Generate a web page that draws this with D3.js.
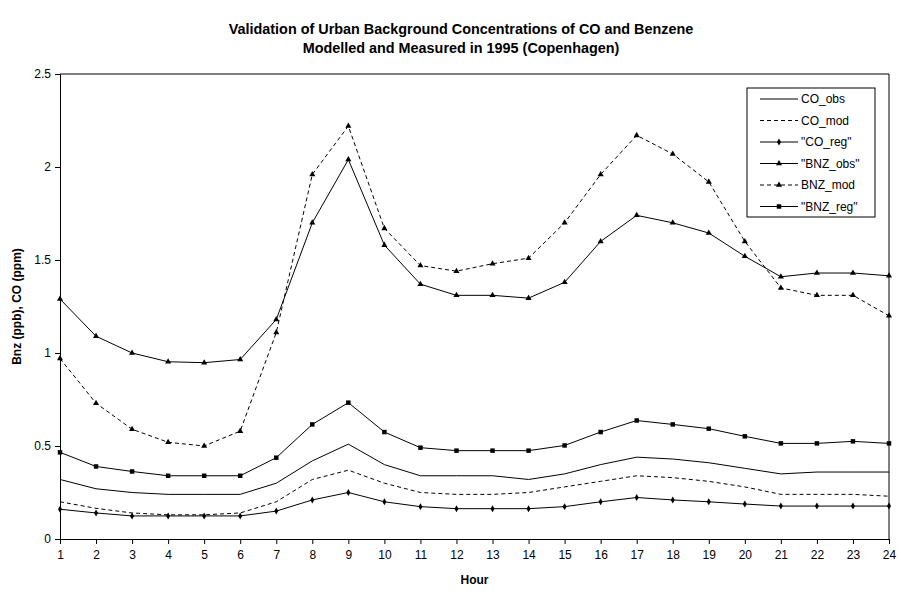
<!DOCTYPE html>
<html>
<head>
<meta charset="utf-8">
<script src="https://cdn.jsdelivr.net/npm/d3@7"></script>
<style>
  body { margin: 0; background: #fff; }
  svg { font-family: Arial, "Liberation Sans", sans-serif; }
</style>
</head>
<body>
<div id="chart"></div>
<script>
// hours 1..24
const hours = d3.range(1, 25);

const coObs  = [0.32,0.27,0.25,0.24,0.24,0.24,0.30,0.42,0.51,0.40,0.34,0.34,0.34,0.32,0.35,0.40,0.44,0.43,0.41,0.38,0.35,0.36,0.36,0.36];
const coMod  = [0.20,0.165,0.14,0.13,0.13,0.14,0.20,0.32,0.37,0.30,0.25,0.24,0.24,0.25,0.28,0.31,0.34,0.33,0.31,0.28,0.24,0.24,0.24,0.23];
const coReg  = [0.16,0.14,0.124,0.124,0.124,0.124,0.15,0.21,0.25,0.20,0.174,0.163,0.163,0.163,0.174,0.20,0.223,0.21,0.20,0.188,0.177,0.177,0.177,0.177];
const bnzObs = [1.29,1.09,1.00,0.953,0.948,0.965,1.18,1.70,2.04,1.58,1.37,1.31,1.31,1.295,1.38,1.60,1.74,1.70,1.645,1.52,1.41,1.43,1.43,1.415];
const bnzMod = [0.97,0.73,0.59,0.52,0.50,0.58,1.11,1.96,2.22,1.67,1.47,1.44,1.48,1.51,1.70,1.96,2.17,2.07,1.92,1.60,1.35,1.31,1.31,1.20];
const bnzReg = [0.466,0.39,0.363,0.34,0.34,0.34,0.437,0.616,0.733,0.575,0.491,0.475,0.475,0.475,0.503,0.575,0.637,0.616,0.593,0.552,0.514,0.514,0.525,0.514];

const seriesNames = ['CO_obs', 'CO_mod', '"CO_reg"', '"BNZ_obs"', 'BNZ_mod', '"BNZ_reg"'];
const yTicks = [0, 0.5, 1, 1.5, 2, 2.5];

const series = [
    {name: seriesNames[0], values: coObs,  dash: null,  marker: null},
    {name: seriesNames[1], values: coMod,  dash: '4,3', marker: null},
    {name: seriesNames[2], values: coReg,  dash: null,  marker: 'diamond'},
    {name: seriesNames[3], values: bnzObs, dash: null,  marker: 'triangle'},
    {name: seriesNames[4], values: bnzMod, dash: '4,3', marker: 'triangle'},
    {name: seriesNames[5], values: bnzReg, dash: null,  marker: 'square'}
];

const width = 901, height = 597;
const margin = {top: 74, right: 12, bottom: 58, left: 60};

const svg = d3.select('#chart').append('svg')
    .attr('width', width)
    .attr('height', height);

let x = d3.scaleLinear().domain([1, 24]).range([margin.left, width - margin.right]);
let y = d3.scaleLinear().domain([0, 2.5]).range([height - margin.bottom, margin.top]);

// plot frame (top + right edges)
svg.append('path')
    .attr('d', `M${x(1)},${y(2.5)}H${x(24)}V${y(0)}`)
    .attr('fill', 'none')
    .attr('stroke', '#000')
    .attr('stroke-width', 1);

// axes
let xAxis = svg.append('g')
    .attr('transform', `translate(0,${y(0)})`)
    .call(d3.axisBottom(x).tickValues(hours).tickFormat(d3.format('d')).tickSize(5).tickPadding(6));
let yAxis = svg.append('g')
    .attr('transform', `translate(${x(1)},0)`)
    .call(d3.axisLeft(y).tickValues(yTicks).tickFormat(d => d).tickSize(5).tickPadding(4));

[xAxis, yAxis].forEach(a => {
    a.select('.domain').attr('stroke', '#000');
    a.selectAll('.tick line').attr('stroke', '#000');
    a.selectAll('text').attr('font-size', 12).attr('fill', '#000')
        .attr('font-family', 'Arial, "Liberation Sans", sans-serif');
});

function markerPath(type) {
    if (type === 'triangle') return d3.symbol().type(d3.symbolTriangle).size(16)();
    if (type === 'square') return d3.symbol().type(d3.symbolSquare).size(20)();
    if (type === 'diamond') return d3.symbol().type(d3.symbolDiamond).size(14)();
    return null;
}

let line = d3.line()
    .x((d, i) => x(hours[i]))
    .y(d => y(d));

series.forEach(s => {
    svg.append('path')
        .datum(s.values)
        .attr('fill', 'none')
        .attr('stroke', '#000')
        .attr('stroke-width', 1)
        .attr('stroke-dasharray', s.dash)
        .attr('d', line);

    if (s.marker) {
        svg.selectAll(null)
            .data(s.values)
            .enter()
            .append('path')
            .attr('d', markerPath(s.marker))
            .attr('fill', '#000')
            .attr('transform', (d, i) => `translate(${x(hours[i])},${y(d)})`);
    }
});

// titles
svg.append('text')
    .attr('x', 461).attr('y', 34)
    .attr('text-anchor', 'middle')
    .attr('font-size', 14.4).attr('font-weight', 'bold')
    .text('Validation of Urban Background Concentrations of CO and Benzene');
svg.append('text')
    .attr('x', 461).attr('y', 53)
    .attr('text-anchor', 'middle')
    .attr('font-size', 14.4).attr('font-weight', 'bold')
    .text('Modelled and Measured in 1995 (Copenhagen)');

svg.append('text')
    .attr('x', (x(1) + x(24)) / 2).attr('y', 584)
    .attr('text-anchor', 'middle')
    .attr('font-size', 12).attr('font-weight', 'bold')
    .text('Hour');

svg.append('text')
    .attr('transform', `translate(21,${(y(0) + y(2.5)) / 2}) rotate(-90)`)
    .attr('text-anchor', 'middle')
    .attr('font-size', 12).attr('font-weight', 'bold')
    .text('Bnz (ppb), CO (ppm)');

// legend
let legend = svg.append('g').attr('transform', 'translate(747,88)');
legend.append('rect')
    .attr('width', 128).attr('height', 129)
    .attr('fill', '#fff').attr('stroke', '#000').attr('stroke-width', 1);

series.forEach((s, i) => {
    let ly = 11 + i * 21.5;
    legend.append('line')
        .attr('x1', 13).attr('x2', 51)
        .attr('y1', ly).attr('y2', ly)
        .attr('stroke', '#000')
        .attr('stroke-dasharray', s.dash);
    if (s.marker) {
        legend.append('path')
            .attr('d', markerPath(s.marker))
            .attr('fill', '#000')
            .attr('transform', `translate(32,${ly})`);
    }
    legend.append('text')
        .attr('x', 54).attr('y', ly + 4)
        .attr('font-size', 12)
        .text(s.name);
});
</script>
</body>
</html>
